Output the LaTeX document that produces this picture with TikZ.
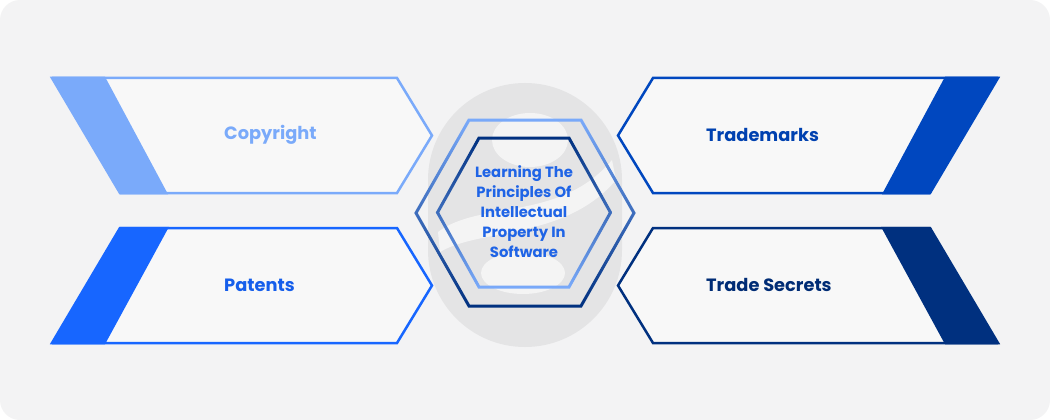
\documentclass[tikz,border=0pt]{standalone}
\usepackage{fontspec}
\setmainfont{Poppins}
\definecolor{bg}{HTML}{F3F3F4}
\definecolor{blob}{HTML}{E4E4E5}
\definecolor{cpy}{HTML}{7AAAFA}
\definecolor{pat}{HTML}{1766FF}
\definecolor{trd}{HTML}{0047BF}
\definecolor{sec}{HTML}{00307F}
\definecolor{ctr}{HTML}{1F64E6}
\newcommand\hexring[5]{%
 (#1-#3-1.73,#2) -- (#1-#4-0.87,#2-#5-1.5) -- (#1+#4+0.87,#2-#5-1.5) -- (#1+#3+1.73,#2) -- (#1+#4+0.87,#2+#5+1.5) -- (#1-#4-0.87,#2+#5+1.5) -- cycle
 (#1-#3+1.73,#2) -- (#1-#4+0.87,#2-#5+1.5) -- (#1+#4-0.87,#2-#5+1.5) -- (#1+#3-1.73,#2) -- (#1+#4-0.87,#2+#5-1.5) -- (#1-#4+0.87,#2+#5-1.5) -- cycle}
\begin{document}
\begin{tikzpicture}[x=1pt,y=-1pt,
  chev/.style={line width=2.5pt, line join=miter, fill=white, fill opacity=.45, draw opacity=1},
  lbl/.style={anchor=west, font=\fontsize{17.8}{20}\selectfont\bfseries, inner sep=0pt},
  ctrtext/.style={align=center, font=\fontsize{14.8}{20}\selectfont\bfseries, text=ctr, inner sep=0pt}]
\useasboundingbox (0,0) rectangle (1050,420);
\fill[white] (0,0) rectangle (1050,420);
\fill[bg, rounded corners=20pt] (0,0) rectangle (1050,420);
% watermark logo
\fill[blob, rounded corners=97pt] (428,83) rectangle (622,347);
\fill[white, opacity=.6] (530,140) ellipse [x radius=38, y radius=27];
\fill[white, opacity=.6] (523,273) ellipse [x radius=42, y radius=21];
\fill[white, opacity=.6] (438,232) .. controls (480,200) and (560,222) .. (612,160) -- (616,180) .. controls (565,240) and (480,228) .. (440,252) -- cycle;
% left chevrons
\draw[cpy, chev] (52,78) -- (397,78) -- (432,135.5) -- (397,193) -- (120,193) -- cycle;
\fill[cpy] (52,76.75) -- (105,76.75) -- (168,194.25) -- (120,194.25) -- cycle;
\draw[pat, chev] (120,228) -- (397,228) -- (432,285.5) -- (397,343) -- (52,343) -- cycle;
\fill[pat] (120,226.75) -- (169,226.75) -- (105,344.25) -- (52,344.25) -- cycle;
% right chevrons
\draw[trd, chev] (998,78) -- (653,78) -- (618,135.5) -- (653,193) -- (930,193) -- cycle;
\fill[trd] (998,76.75) -- (945,76.75) -- (882,194.25) -- (930,194.25) -- cycle;
\draw[sec, chev] (930,228) -- (653,228) -- (618,285.5) -- (653,343) -- (998,343) -- cycle;
\fill[sec] (930,226.75) -- (881,226.75) -- (945,344.25) -- (998,344.25) -- cycle;
% hexagons
\shade[top color=cpy, middle color=pat, bottom color=sec, even odd rule] \hexring{525}{213}{109}{56}{93};
\shade[top color=sec, middle color=pat, bottom color=cpy, even odd rule] \hexring{524}{212.5}{86.5}{45}{74.5};
% labels
\node[lbl, text=cpy] (copyright) at (224,135) {Copyright};
\node[lbl, text=pat!92!black] (patents) at (224,285) {Patents};
\node[lbl, text=trd!92!black] (trademarks) at (706,135) {Trademarks};
\node[lbl, text=sec!92!black] (secrets) at (706,285) {Trade Secrets};
\node[ctrtext] (center) at (524,212) {Learning The\\Principles Of\\Intellectual\\Property In\\Software};
\end{tikzpicture}
\end{document}
